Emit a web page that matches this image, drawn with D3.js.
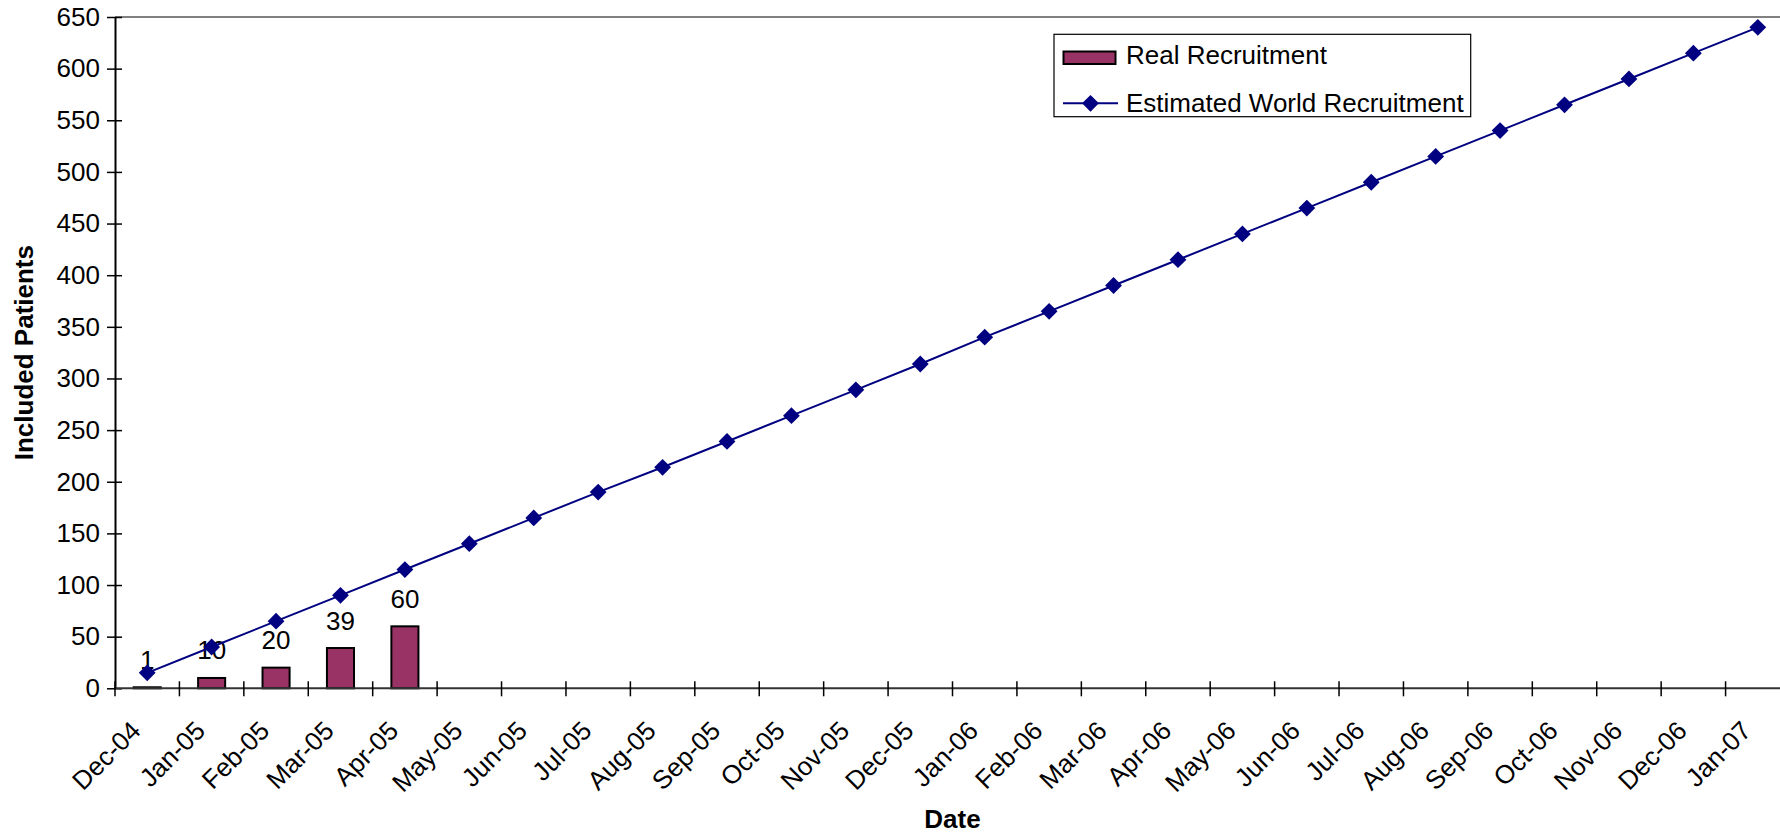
<!DOCTYPE html>
<html>
<head>
<meta charset="utf-8">
<script src="https://cdn.jsdelivr.net/npm/d3@7"></script>
<style>
  html, body { margin: 0; padding: 0; background: #fff; overflow: hidden; }
  svg { display: block; font-family: "Liberation Sans", Arial, sans-serif; }
</style>
</head>
<body>
<svg id="chart" width="1780" height="836"></svg>
<script>
const categories = ["Dec-04","Jan-05","Feb-05","Mar-05","Apr-05","May-05","Jun-05","Jul-05","Aug-05","Sep-05","Oct-05","Nov-05","Dec-05","Jan-06","Feb-06","Mar-06","Apr-06","May-06","Jun-06","Jul-06","Aug-06","Sep-06","Oct-06","Nov-06","Dec-06","Jan-07"];
const realRecruitment = [1, 10, 20, 39, 60];
const estimatedWorld = [15, 40, 65, 90, 115, 140, 165, 190, 214, 239, 264, 289, 314, 340, 365, 390, 415, 440, 465, 490, 515, 540, 565, 590, 615, 640];
const yTicks = [0,50,100,150,200,250,300,350,400,450,500,550,600,650];
const seriesNames = ["Real Recruitment", "Estimated World Recruitment"];

const svg = d3.select("#chart");
const FS = 26;
const pL = 115, pR = 1790, pT = 17, pB = 688.3;

svg.append("rect").attr("width", 1780).attr("height", 836).attr("fill", "#fff");

const x = d3.scaleBand().domain(categories).range([pL, pR]).padding(0);
const y = d3.scaleLinear().domain([0, 650]).range([pB, pT]);
const bw = x.bandwidth();

// plot area border (top, grey)
svg.append("line").attr("x1", pL).attr("x2", 1780).attr("y1", y(650)).attr("y2", y(650))
  .attr("stroke", "#808080").attr("stroke-width", 2);

// bars
const barW = bw * 0.42;
svg.append("g").selectAll("rect").data(realRecruitment).join("rect")
  .attr("x", (d, i) => x(categories[i]) + bw / 2 - barW / 2)
  .attr("y", d => y(d))
  .attr("width", barW)
  .attr("height", d => y(0) - y(d))
  .attr("fill", "#993366")
  .attr("stroke", "#000")
  .attr("stroke-width", 2);

// bar labels
svg.append("g").selectAll("text").data(realRecruitment).join("text")
  .attr("x", (d, i) => x(categories[i]) + bw / 2)
  .attr("y", d => y(d) - 18.5)
  .attr("text-anchor", "middle")
  .attr("font-size", FS)
  .attr("fill", "#000")
  .text(d => d);

// line
const line = d3.line().x((d, i) => x(categories[i]) + bw / 2).y(d => y(d));
svg.append("path").datum(estimatedWorld).attr("d", line)
  .attr("fill", "none").attr("stroke", "#000080").attr("stroke-width", 2);

const diamond = d3.symbol().type(d3.symbolDiamond2).size(180);
svg.append("g").selectAll("path").data(estimatedWorld).join("path")
  .attr("transform", (d, i) => `translate(${x(categories[i]) + bw / 2},${y(d)})`)
  .attr("d", diamond)
  .attr("fill", "#000080");

// y axis
const yAxis = svg.append("g").attr("transform", `translate(${pL},0)`)
  .call(d3.axisLeft(y).tickValues(yTicks).tickSize(0).tickPadding(15));
yAxis.select(".domain").attr("stroke", "#000").attr("stroke-width", 2);
yAxis.selectAll(".tick text").attr("font-size", FS).attr("font-family", "Liberation Sans, Arial, sans-serif").attr("fill", "#000");
yAxis.selectAll(".tick").append("line").attr("x1", -8).attr("x2", 7).attr("stroke", "#000").attr("stroke-width", 1.5);

// x axis
const xAxis = svg.append("g").attr("transform", `translate(0,${pB})`);
xAxis.append("line").attr("x1", pL).attr("x2", 1780).attr("y1", 0).attr("y2", 0)
  .attr("stroke", "#333").attr("stroke-width", 2);
const tickPos = categories.map(c => x(c));
xAxis.selectAll("line.t").data(tickPos).join("line").attr("class", "t")
  .attr("x1", d => d).attr("x2", d => d).attr("y1", -7).attr("y2", 8)
  .attr("stroke", "#000").attr("stroke-width", 1.5);
xAxis.selectAll("text").data(categories).join("text")
  .attr("transform", d => `translate(${x(d) + bw / 2 - 5},${44}) rotate(-45)`)
  .attr("text-anchor", "end")
  .attr("font-size", FS)
  .attr("fill", "#000")
  .text(d => d);

// axis titles
svg.append("text").attr("x", (pL + pR) / 2).attr("y", 828)
  .attr("text-anchor", "middle").attr("font-size", FS).attr("font-weight", "bold").text("Date");
svg.append("text").attr("transform", `translate(33,${(pT + pB) / 2}) rotate(-90)`)
  .attr("text-anchor", "middle").attr("font-size", FS).attr("font-weight", "bold").text("Included Patients");

// legend
const lg = svg.append("g");
lg.append("rect").attr("x", 1054).attr("y", 34.3).attr("width", 416.7).attr("height", 82.4)
  .attr("fill", "#fff").attr("stroke", "#000").attr("stroke-width", 1.2);
lg.append("rect").attr("x", 1063.5).attr("y", 51.5).attr("width", 52).attr("height", 12.5)
  .attr("fill", "#993366").attr("stroke", "#000").attr("stroke-width", 2);
lg.append("text").attr("x", 1126).attr("y", 64.3).attr("font-size", FS).text(seriesNames[0]);
lg.append("line").attr("x1", 1063).attr("x2", 1118).attr("y1", 103.3).attr("y2", 103.3)
  .attr("stroke", "#000080").attr("stroke-width", 2);
lg.append("path").attr("transform", "translate(1090.5,103.3)").attr("d", diamond).attr("fill", "#000080");
lg.append("text").attr("x", 1126).attr("y", 112.3).attr("font-size", FS).text(seriesNames[1]);
</script>
</body>
</html>
